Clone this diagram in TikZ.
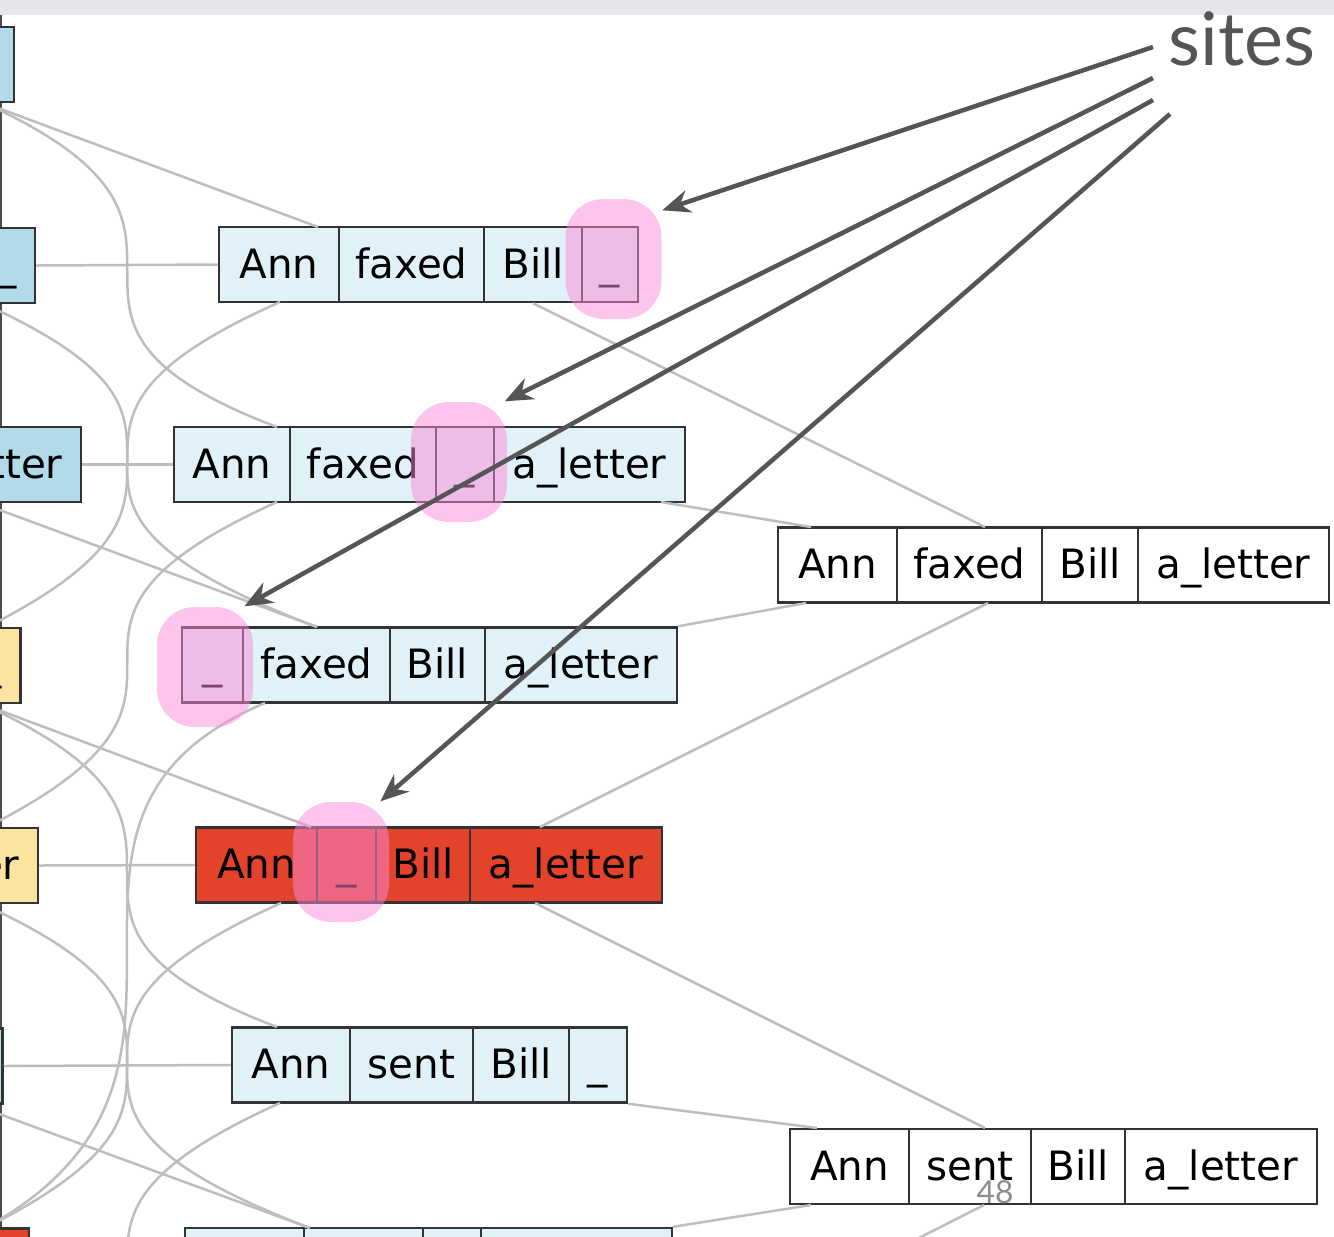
\documentclass[tikz,border=0pt]{standalone}
\usepackage{fontspec}
\setmainfont{DejaVu Sans}
\newfontfamily\slidefont{Lato}
\usetikzlibrary{arrows.meta}

\definecolor{band}{HTML}{E4E6EA}
\definecolor{frameline}{HTML}{4D4D4D}
\definecolor{paleblue}{HTML}{E0F2F7}
\definecolor{deepblue}{HTML}{B2DBEA}
\definecolor{genyellow}{HTML}{FDE3A0}
\definecolor{focusred}{HTML}{E2432A}
\definecolor{sitepink}{HTML}{FB89D9}
\definecolor{wiregray}{HTML}{BDBDBD}
\definecolor{pointergray}{HTML}{555555}

\begin{document}
\begin{tikzpicture}[x=0.1mm, y=-0.1mm]
            \useasboundingbox (0,0) rectangle (1334,1236);
            \clip (0,0) rectangle (1334,1236);
            \fill[band] (0,0) rectangle (1334,15);
            \draw[frameline, line width=0.2mm] (1,15) -- (1,1236);

            \begin{scope}[every node/.style={draw=black!80, line width=0.25mm, minimum height=7.5mm, inner sep=0pt, text height=8.6pt, text depth=0.9pt, font=\fontsize{11.5}{14}\selectfont, fill=paleblue}]
                % left column, cut off by the slide edge
                \node[fill=deepblue, minimum width=7mm] (l1) at (-21,64.5) {};
                \node[fill=deepblue, minimum width=5.7mm] (l2) at (6.5,265.5) {\_};
                \node[fill=deepblue, minimum width=19.1mm] (l3) at (-14.5,464.5) {a\_letter};
                \node[fill=genyellow, minimum width=5.8mm] (l4) at (-8.5,665.5) {\_};
                \node[fill=genyellow, minimum width=19.1mm] (l5) at (-57.5,865.5) {a\_letter};
                \node[fill=deepblue, minimum width=5.8mm] (l6) at (-26.5,1066) {};
                \node[fill=focusred, minimum width=5.8mm] (l7) at (0,1266) {};

                \node[minimum width=12mm] (m1-1) at (279,264.5) {Ann};
                \node[minimum width=14.5mm] (m1-2) at (411.5,264.5) {faxed};
                \node[minimum width=9.8mm] (m1-3) at (533,264.5) {Bill};
                \node[minimum width=5.6mm] (m1-4) at (610,264.5) {\_};

                \node[minimum width=11.6mm] (m2-1) at (232,464.5) {Ann};
                \node[minimum width=14.6mm] (m2-2) at (363,464.5) {faxed};
                \node[minimum width=5.8mm] (m2-3) at (465,464.5) {\_};
                \node[minimum width=19.1mm] (m2-4) at (589.5,464.5) {a\_letter};

                \node[minimum width=6.1mm] (m3-1) at (212.5,665) {\_};
                \node[minimum width=14.7mm] (m3-2) at (316.5,665) {faxed};
                \node[minimum width=9.5mm] (m3-3) at (437.5,665) {Bill};
                \node[minimum width=19.2mm] (m3-4) at (581,665) {a\_letter};

                \node[fill=focusred, minimum width=12.1mm] (m4-1) at (256.5,865) {Ann};
                \node[fill=focusred, minimum width=5.9mm] (m4-2) at (346.5,865) {\_};
                \node[fill=focusred, minimum width=9.4mm] (m4-3) at (423,865) {Bill};
                \node[fill=focusred, minimum width=19.2mm] (m4-4) at (566,865) {a\_letter};

                \node[minimum width=11.8mm] (m5-1) at (291,1065) {Ann};
                \node[minimum width=12.3mm] (m5-2) at (411.5,1065) {sent};
                \node[minimum width=9.6mm] (m5-3) at (521,1065) {Bill};
                \node[minimum width=5.8mm] (m5-4) at (598,1065) {\_};

                \node[minimum width=11.9mm] (m6-1) at (244.5,1265.5) {};
                \node[minimum width=11.9mm] (m6-2) at (363.5,1265.5) {};
                \node[minimum width=5.8mm] (m6-3) at (452,1265.5) {};
                \node[minimum width=19.1mm] (m6-4) at (576.5,1265.5) {};

                \node[fill=white, minimum width=11.9mm] (r1-1) at (837.5,565) {Ann};
                \node[fill=white, minimum width=14.5mm] (r1-2) at (969.5,565) {faxed};
                \node[fill=white, minimum width=9.6mm] (r1-3) at (1090,565) {Bill};
                \node[fill=white, minimum width=19.1mm] (r1-4) at (1233.5,565) {a\_letter};

                \node[fill=white, minimum width=11.9mm] (r2-1) at (849.5,1166.5) {Ann};
                \node[fill=white, minimum width=12.2mm] (r2-2) at (970,1166.5) {sent};
                \node[fill=white, minimum width=9.4mm] (r2-3) at (1078,1166.5) {Bill};
                \node[fill=white, minimum width=19.2mm] (r2-4) at (1221,1166.5) {a\_letter};
            \end{scope}

            % edge ports
            \coordinate (l1s) at (-18,102);
            \coordinate (l2s) at (-18,303);
            \coordinate (l3s) at (-22,502);
            \coordinate (l4n) at (-15,628);
            \coordinate (l4s) at (-20,703);
            \coordinate (l5n) at (-15,828);
            \coordinate (l5s) at (-20,903);
            \coordinate (l6s) at (-28,1104);
            \coordinate (l7n) at (-15,1228);
            \coordinate (l8n) at (-15,1428);
            \coordinate (m1n) at (318,227);
            \coordinate (m1s) at (280,302);
            \coordinate (m2n) at (277,427);
            \coordinate (m2s) at (277,502);
            \coordinate (m2se) at (661,502);
            \coordinate (m3n) at (317,627);
            \coordinate (m3s) at (265,703);
            \coordinate (m4n) at (311,827);
            \coordinate (m4ne) at (540,827);
            \coordinate (m4s) at (281,903);
            \coordinate (m4se) at (535,903);
            \coordinate (m5n) at (277,1027);
            \coordinate (m5s) at (280,1103);
            \coordinate (m6n) at (310,1228);
            \coordinate (m7n) at (540,1430);
            \coordinate (r1n) at (985,527);
            \coordinate (r1nw) at (811,527);
            \coordinate (r1sw) at (806,603);
            \coordinate (r1s) at (988,603);
            \coordinate (r2n) at (985,1128);
            \coordinate (r2nw) at (817,1128);
            \coordinate (r2sw) at (811,1205);
            \coordinate (r2s) at (984,1205);

            \begin{scope}[every edge/.style={draw=wiregray, line width=0.25mm}]
                \path [-] (l2.east) edge (m1-1.west);
                \path [-] (l3.east) edge (m2-1.west);
                \path [-] (l5.east) edge (m4-1.west);
                \path [-] (l6.east) edge (m5-1.west);

                \path [-] (l1s) edge (m1n);
                \path [-] (l3s) edge (m3n);
                \path [-] (l4s) edge (m4n);
                \path [-] (l6s) edge (m6n);

                \path [-] (m1-3.south) edge (r1n);
                \path [-] (m2se) edge (r1nw);
                \path [-] (m3-4.north east) edge (r1sw);
                \path [-] (m4ne) edge (r1s);
                \path [-] (m4se) edge (r2n);
                \path [-] (m5-4.south east) edge (r2nw);
                \path [-] (m6-4.north east) edge (r2sw);
                \path [-] (r2s) edge (m7n);
            \end{scope}
            \begin{scope}[draw=wiregray, line width=0.25mm]
                \draw (l1s) .. controls +(292,131) and +(-298,-113) .. (m2n);
                \draw (l2s) .. controls +(305,137) and +(-365,-139) .. (m3n);
                \draw (l4s) .. controls +(295,133) and +(-299,-114) .. (m5n);
                \draw (l5s) .. controls +(306,138) and +(-354,-135) .. (m6n);

                \draw (m1s) .. controls +(-302,134) and +(288,-144) .. (l4n);
                \draw (m2s) .. controls +(-297,134) and +(287,-144) .. (l5n);
                \draw (m3s) .. controls +(-278,117) and +(283,-155) .. (l7n);
                \draw (m4s) .. controls +(-304,137) and +(288,-144) .. (l7n);
                \draw (m5s) .. controls +(-302,136) and +(288,-144) .. (l8n);
            \end{scope}

            \node[anchor=base west, inner sep=0pt, font=\slidefont\fontsize{21}{25}\selectfont, text=pointergray] (sites) at (1168,65) {sites};
            \node[font=\slidefont\fontsize{9}{11}\selectfont, text=black!45] (page) at (995,1192) {48};

            \begin{scope}[every node/.style={fill=sitepink, fill opacity=0.5, rounded corners=3.8mm, minimum width=9.6mm, minimum height=12mm, inner sep=0pt}]
                \node (h1) at (613.5,259) {};
                \node (h2) at (459,462) {};
                \node (h3) at (205,667) {};
                \node (h4) at (341,862) {};
            \end{scope}

            \coordinate (s1) at (1153,47);
            \coordinate (s2) at (1153,78);
            \coordinate (s3) at (1153,100);
            \coordinate (s4) at (1170,114);
            \begin{scope}[every edge/.style={draw=pointergray, line width=0.45mm, -{Stealth[length=2.8mm, width=2.3mm]}}]
                \path (s1) edge (h1.45);
                \path (s2) edge (h2.53);
                \path (s3) edge (h3.57);
                \path (s4) edge (h4.57);
            \end{scope}
        \end{tikzpicture}
\end{document}
